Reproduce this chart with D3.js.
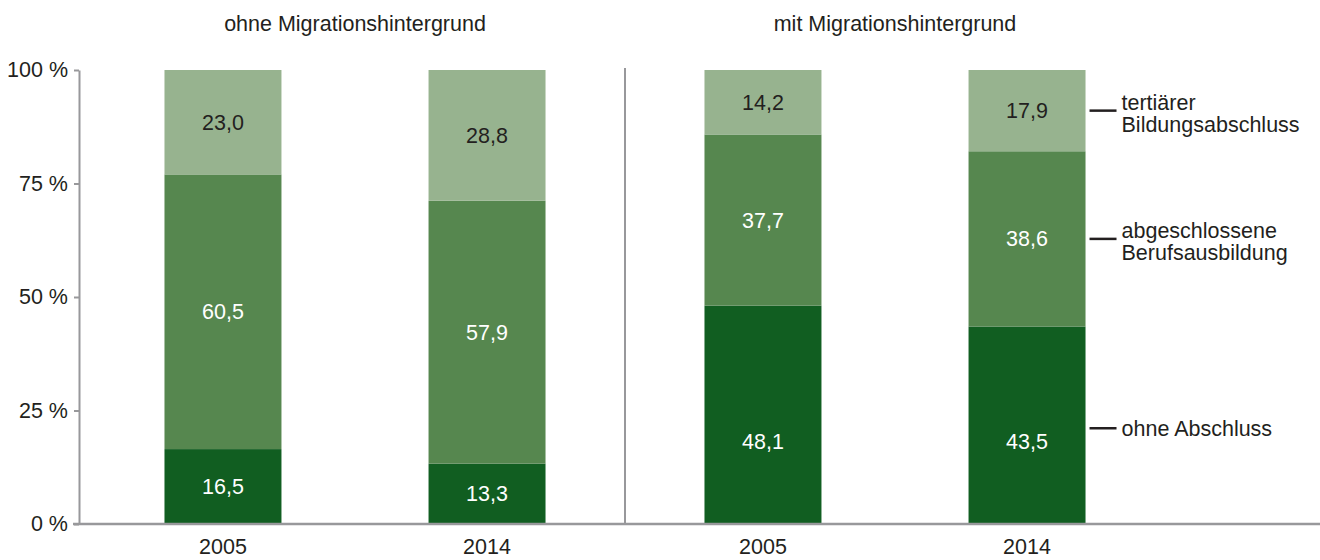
<!DOCTYPE html>
<html>
<head>
<meta charset="utf-8">
<script src="https://cdn.jsdelivr.net/npm/d3@7"></script>
<style>
  body { margin: 0; background: #fff; }
  text { font-family: "Liberation Sans", Arial, sans-serif; font-size: 21.5px; fill: #231f20; }
</style>
</head>
<body>
<div id="chart"></div>
<script>
// data
var groups = ["ohne Migrationshintergrund", "mit Migrationshintergrund"];
var years = ["2005", "2014"];
var series = ["ohne Abschluss", "abgeschlossene Berufsausbildung", "tertiärer Bildungsabschluss"];
var legendLines = [["ohne Abschluss"], ["abgeschlossene", "Berufsausbildung"], ["tertiärer", "Bildungsabschluss"]];
var ohneAbschluss = [16.5, 13.3, 48.1, 43.5];
var berufsausbildung = [60.5, 57.9, 37.7, 38.6];
var tertiaer = [23.0, 28.8, 14.2, 17.9];
var yTicks = [0, 25, 50, 75, 100];

var colors = ["#115e21", "#56874f", "#97b38f"];
var labelColors = ["#fff", "#fff", "#231f20"];

var width = 1320, height = 560;

var svg = d3.select("#chart")
  .append("svg")
    .attr("width", width)
    .attr("height", height);

var y = d3.scaleLinear()
  .domain([0, 100])
  .range([524, 70]);

var x0 = d3.scaleBand()
  .domain(groups)
  .range([85, 1165]);

var x1 = d3.scaleBand()
  .domain(years)
  .range([0, x0.bandwidth()])
  .paddingInner(0.557)
  .paddingOuter(0.301);

// build rows
var rows = [];
groups.forEach(function(g, gi) {
  years.forEach(function(yr, yi) {
    var i = gi * years.length + yi;
    rows.push({group: g, year: yr, values: [ohneAbschluss[i], berufsausbildung[i], tertiaer[i]]});
  });
});

var stackData = rows.map(function(r) {
  var acc = 0;
  return r.values.map(function(v, k) {
    var seg = {row: r, k: k, v: v, y0: acc, y1: acc + v};
    acc += v;
    return seg;
  });
});

// titles
svg.selectAll(".title")
  .data(groups)
  .enter()
  .append("text")
    .attr("class", "title")
    .attr("x", function(d) { return x0(d) + x0.bandwidth() / 2; })
    .attr("y", 23)
    .attr("dy", "0.35em")
    .attr("text-anchor", "middle")
    .text(function(d) { return d; });

// bars
var bar = svg.selectAll(".bar")
  .data(stackData)
  .enter()
  .append("g")
    .attr("class", "bar")
    .attr("transform", function(d) { return "translate(" + (x0(d[0].row.group) + x1(d[0].row.year)) + ",0)"; });

bar.selectAll("rect")
  .data(function(d) { return d; })
  .enter()
  .append("rect")
    .attr("x", 0)
    .attr("width", x1.bandwidth())
    .attr("y", function(d) { return y(d.y1); })
    .attr("height", function(d) { return y(d.y0) - y(d.y1); })
    .attr("fill", function(d) { return colors[d.k]; });

bar.selectAll(".val")
  .data(function(d) { return d; })
  .enter()
  .append("text")
    .attr("class", "val")
    .attr("x", x1.bandwidth() / 2)
    .attr("y", function(d) {
      var c = (y(d.y0) + y(d.y1)) / 2;
      // tall bottom segments get their label lower
      if (d.k === 0) c = Math.max(c, y(18.2));
      return c;
    })
    .attr("dy", "0.35em")
    .attr("text-anchor", "middle")
    .style("fill", function(d) { return labelColors[d.k]; })
    .text(function(d) { return d3.format(".1f")(d.v).replace(".", ","); });

// axes
var yAxis = svg.append("g")
  .attr("class", "y axis")
  .attr("transform", "translate(79,0)")
  .call(d3.axisLeft(y).tickValues(yTicks).tickSize(5).tickSizeOuter(0).tickPadding(6)
    .tickFormat(function(d) { return d + " %"; }));
yAxis.selectAll("path, line").attr("stroke", "#98989b").attr("stroke-width", 2);
yAxis.selectAll("text").style("font-size", "21.5px").style("font-family", "Liberation Sans, Arial, sans-serif").attr("fill", "#231f20");

svg.append("line")
  .attr("x1", 73).attr("x2", width)
  .attr("y1", y(0)).attr("y2", y(0))
  .attr("stroke", "#98989b")
  .attr("stroke-width", 2.5);

// separator between groups
svg.append("line")
  .attr("x1", x0(groups[1])).attr("x2", x0(groups[1]))
  .attr("y1", y(100) - 2).attr("y2", y(0))
  .attr("stroke", "#98989b")
  .attr("stroke-width", 2);

// year labels
svg.selectAll(".year")
  .data(rows)
  .enter()
  .append("text")
    .attr("class", "year")
    .attr("x", function(d) { return x0(d.group) + x1(d.year) + x1.bandwidth() / 2; })
    .attr("y", 546)
    .attr("dy", "0.35em")
    .attr("text-anchor", "middle")
    .text(function(d) { return d.year; });

// legend next to last bar
var last = stackData[stackData.length - 1];
var lx = x0(groups[1]) + x1(years[1]) + x1.bandwidth();
var leg = svg.selectAll(".legend")
  .data(last)
  .enter()
  .append("g")
    .attr("class", "legend")
    .attr("transform", function(d) {
      var c = (y(d.y0) + y(d.y1)) / 2;
      if (d.k === 0) c += 3;
      return "translate(" + lx + "," + c + ")";
    });

leg.append("line")
  .attr("x1", 4).attr("x2", 31)
  .attr("stroke", "#231f20")
  .attr("stroke-width", 2.5);

leg.append("text")
  .attr("y", function(d) { return -(legendLines[d.k].length - 1) * 8; })
  .selectAll("tspan")
  .data(function(d) { return legendLines[d.k]; })
  .enter()
  .append("tspan")
    .attr("x", 36)
    .attr("dy", function(d, i) { return i === 0 ? "0.35em" : "22"; })
    .text(function(d) { return d; });
</script>
</body>
</html>
